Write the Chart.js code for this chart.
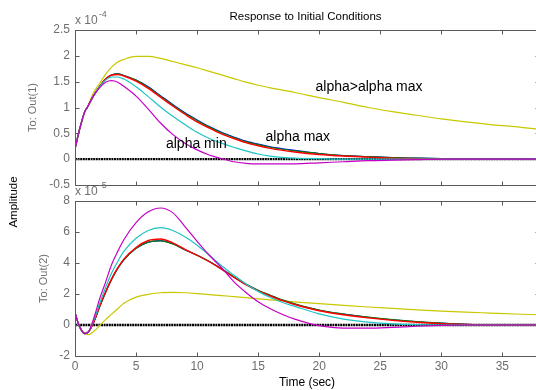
<!DOCTYPE html>
<html><head><meta charset="utf-8">
<script src="https://cdn.jsdelivr.net/npm/chart.js@4"></script>
<style>
html,body{margin:0;padding:0;background:#fff;overflow:hidden;width:536px;height:390px}
canvas{position:absolute;left:0;top:0}
</style></head>
<body>
<canvas id="c1" width="540" height="390"></canvas>
<canvas id="c2" width="540" height="390"></canvas>
<script>
// ---------- DATA ----------
const xTicks = [0, 5, 10, 15, 20, 25, 30, 35];
const xMin = 0, xMax = 38;

// Out(1), values in units of 1e-4
const tA = [0, 0.4, 0.8, 1, 1.5, 2, 2.5, 3, 3.5, 4, 5, 6, 7, 8, 9, 10, 11, 12, 13, 14, 15, 16, 18, 20, 22, 24, 26, 28, 30, 32, 34, 36, 38];
const out1Yellow  = [0.2, 0.6, 0.92, 1.0, 1.28, 1.46, 1.64, 1.78, 1.88, 1.93, 1.99, 1.99, 1.95, 1.89, 1.83, 1.77, 1.7, 1.63, 1.56, 1.49, 1.43, 1.38, 1.29, 1.19, 1.1, 1.0, 0.92, 0.85, 0.78, 0.72, 0.67, 0.63, 0.58];
const out1Blue    = [0.2, 0.6, 0.92, 1.0, 1.22, 1.4, 1.55, 1.63, 1.65, 1.62, 1.53, 1.4, 1.23, 1.06, 0.9, 0.76, 0.63, 0.52, 0.43, 0.35, 0.29, 0.24, 0.17, 0.11, 0.07, 0.05, 0.03, 0.02, 0.01, 0, 0, 0, 0];
const out1Green   = [0.2, 0.6, 0.92, 1.0, 1.22, 1.4, 1.55, 1.63, 1.65, 1.62, 1.53, 1.39, 1.22, 1.05, 0.89, 0.75, 0.62, 0.51, 0.42, 0.34, 0.28, 0.23, 0.16, 0.11, 0.07, 0.05, 0.03, 0.02, 0.01, 0, 0, 0, 0];
const out1Red     = [0.2, 0.6, 0.92, 1.0, 1.22, 1.4, 1.55, 1.63, 1.64, 1.61, 1.51, 1.37, 1.2, 1.03, 0.87, 0.72, 0.6, 0.49, 0.4, 0.32, 0.26, 0.21, 0.14, 0.09, 0.06, 0.04, 0.02, 0.01, 0, 0, 0, 0, 0];
const out1Cyan    = [0.2, 0.6, 0.92, 1.0, 1.22, 1.4, 1.53, 1.59, 1.59, 1.55, 1.4, 1.21, 1.01, 0.83, 0.67, 0.52, 0.4, 0.31, 0.23, 0.16, 0.1, 0.06, 0.02, 0.01, 0, 0, 0, 0, 0, 0, 0, 0, 0];
const out1Magenta = [0.2, 0.6, 0.92, 1.0, 1.22, 1.38, 1.49, 1.52, 1.49, 1.41, 1.22, 0.97, 0.7, 0.48, 0.31, 0.18, 0.08, 0.01, -0.05, -0.08, -0.09, -0.09, -0.09, -0.07, -0.05, -0.03, -0.02, -0.01, 0, 0, 0, 0, 0];

// Out(2), values in units of 1e-5
const tB = [0, 0.25, 0.5, 0.8, 1.1, 1.4, 1.7, 2, 2.5, 3, 3.5, 4, 5, 6, 7, 8, 9, 10, 11, 12, 13, 14, 15, 16, 17, 18, 20, 22, 24, 26, 28, 30, 32, 34, 36, 38];
const out2Yellow  = [0.8, 0.15, -0.3, -0.55, -0.62, -0.5, -0.3, -0.05, 0.35, 0.7, 1.05, 1.4, 1.8, 1.98, 2.08, 2.1, 2.08, 2.03, 1.96, 1.9, 1.83, 1.76, 1.69, 1.62, 1.56, 1.49, 1.38, 1.26, 1.16, 1.07, 0.98, 0.9, 0.83, 0.77, 0.71, 0.66];
const out2Blue    = [0.8, 0.15, -0.3, -0.55, -0.45, -0.05, 0.5, 1.15, 2.1, 2.95, 3.65, 4.2, 4.95, 5.35, 5.45, 5.25, 4.85, 4.5, 4.1, 3.62, 3.1, 2.62, 2.22, 1.9, 1.6, 1.35, 0.95, 0.7, 0.5, 0.34, 0.21, 0.12, 0.05, 0.02, 0, 0];
const out2Green   = [0.8, 0.15, -0.3, -0.55, -0.45, -0.05, 0.5, 1.15, 2.1, 2.95, 3.65, 4.2, 4.95, 5.35, 5.43, 5.23, 4.85, 4.5, 4.1, 3.63, 3.12, 2.64, 2.24, 1.92, 1.62, 1.37, 0.97, 0.71, 0.51, 0.35, 0.22, 0.12, 0.05, 0.02, 0, 0];
const out2Red     = [0.8, 0.15, -0.3, -0.55, -0.45, -0.05, 0.52, 1.18, 2.12, 2.98, 3.68, 4.25, 5.0, 5.45, 5.55, 5.3, 4.88, 4.5, 4.08, 3.6, 3.08, 2.6, 2.2, 1.87, 1.57, 1.32, 0.92, 0.66, 0.46, 0.3, 0.18, 0.09, 0.03, 0, 0, 0];
const out2Cyan    = [0.8, 0.15, -0.3, -0.55, -0.45, 0.05, 0.65, 1.35, 2.4, 3.35, 4.1, 4.75, 5.6, 6.1, 6.28, 6.1, 5.7, 5.15, 4.5, 3.82, 3.22, 2.65, 2.17, 1.77, 1.45, 1.2, 0.72, 0.38, 0.18, 0.07, 0.02, 0, 0, 0, 0, 0];
const out2Magenta = [0.8, 0.15, -0.3, -0.55, -0.45, 0.1, 0.85, 1.65, 2.75, 3.9, 4.75, 5.5, 6.6, 7.3, 7.55, 7.25, 6.35, 5.4, 4.5, 3.7, 2.8, 2.1, 1.5, 1.05, 0.68, 0.38, -0.04, -0.2, -0.2, -0.15, -0.08, -0.03, 0, 0, 0, 0];

// zero reference line
const zeroT = [0, 38];
const zeroV = [0, 0];

// annotations in the upper axes (data coordinates)
const annText = ['alpha>alpha max', 'alpha max', 'alpha min'];
const annX = [19.7, 15.6, 7.45];
const annY = [1.4, 0.42, 0.30];

// ---------- STYLE ----------
const FONT = "'Liberation Sans', Arial, sans-serif";
const GRAY = '#6e6e6e';
const colors = {y:'#c8c800', b:'#0000ff', g:'#008000', r:'#ff0000', c:'#1cc4c4', m:'#c400c4', k:'#000000'};

function pts(t, v){ return t.map((x,i)=>({x:x, y:v[i]})); }
function ds(t, v, color, order, width){
  return {data: pts(t, v), borderColor: color, borderWidth: width || 1.2, pointRadius: 0,
          fill: false, cubicInterpolationMode: 'monotone', order: order};
}
function zeroDs(){
  return {data: pts(zeroT, zeroV), borderColor: '#000', borderWidth: 2.4, borderDash: [2, 0.6],
          pointRadius: 0, fill: false, order: 10};
}

const boxPlugin = {
  id: 'matBox',
  afterDatasetsDraw(chart){
    const {ctx, chartArea: a, scales: {x, y}} = chart;
    ctx.save();
    ctx.strokeStyle = '#5a5a5a'; ctx.lineWidth = 1;
    const L = Math.round(a.left) + 0.5, R = Math.round(a.right) + 0.5;
    const T = Math.round(a.top) + 0.5, B = Math.round(a.bottom) + 0.5;
    ctx.strokeRect(L, T, R - L, B - T);
    ctx.beginPath();
    xTicks.forEach(v => {
      const px = Math.round(x.getPixelForValue(v)) + 0.5;
      ctx.moveTo(px, T); ctx.lineTo(px, T + 4);
      ctx.moveTo(px, B); ctx.lineTo(px, B - 4);
    });
    y.ticks.forEach(tk => {
      const py = Math.round(y.getPixelForValue(tk.value)) + 0.5;
      ctx.moveTo(L, py); ctx.lineTo(L + 4, py);
      ctx.moveTo(R, py); ctx.lineTo(R - 4, py);
    });
    ctx.stroke();
    ctx.restore();
  }
};

function expLabel(ctx, x, y, exp){
  ctx.fillStyle = GRAY;
  ctx.textAlign = 'left'; ctx.textBaseline = 'middle';
  ctx.font = '12px ' + FONT;
  ctx.fillText('x 10', x, y);
  const w = ctx.measureText('x 10').width;
  ctx.font = '9px ' + FONT;
  ctx.fillText(exp, x + w + 1, y - 6);
}

const textPlugin = {
  id: 'texts',
  afterDraw(chart){
    const {ctx, scales: {x, y}} = chart;
    ctx.save();
    ctx.fillStyle = '#000';
    ctx.font = '11.5px ' + FONT;
    ctx.textAlign = 'center'; ctx.textBaseline = 'middle';
    ctx.fillText('Response to Initial Conditions', 305.5, 17);
    ctx.save();
    ctx.translate(14, 202); ctx.rotate(-Math.PI / 2);
    ctx.fillText('Amplitude', 0, 0);
    ctx.restore();
    expLabel(ctx, 75, 21, '-4');
    expLabel(ctx, 75, 192, '-5');
    ctx.fillStyle = '#000';
    ctx.font = '14px ' + FONT;
    ctx.textAlign = 'left'; ctx.textBaseline = 'middle';
    annText.forEach((s, i) => ctx.fillText(s, x.getPixelForValue(annX[i]), y.getPixelForValue(annY[i])));
    ctx.restore();
  }
};

Chart.defaults.font.family = FONT;
Chart.defaults.animation = false;

const common = {
  responsive: false,
  animation: false,
  plugins: {legend: {display: false}, tooltip: {enabled: false}, title: {display: false}},
  elements: {line: {tension: 0}}
};
const fmt = v => String(Math.round(v * 100) / 100);

// ---------- TOP AXES ----------
new Chart(document.getElementById('c1'), {
  type: 'line',
  data: {datasets: [
    zeroDs(),
    ds(tA, out1Yellow, colors.y, 6),
    ds(tA, out1Blue, colors.b, 5),
    ds(tA, out1Green, colors.g, 4),
    ds(tA, out1Red, colors.r, 3, 1.4),
    ds(tA, out1Cyan, colors.c, 2),
    ds(tA, out1Magenta, colors.m, 1)
  ]},
  options: Object.assign({}, common, {
    layout: {padding: {left: 0, top: 30, right: 1, bottom: 205}},
    scales: {
      x: {type: 'linear', min: xMin, max: xMax, display: false},
      y: {type: 'linear', min: -0.5, max: 2.5,
          ticks: {stepSize: 0.5, color: GRAY, font: {size: 12}, padding: 5, callback: fmt},
          grid: {display: false, drawTicks: false}, border: {display: false},
          title: {display: true, text: 'To: Out(1)', color: GRAY, font: {size: 11}, padding: {top: 26.4, bottom: 0}},
          afterFit: s => { s.width = 75; }}
    }
  }),
  plugins: [boxPlugin, textPlugin]
});

// ---------- BOTTOM AXES ----------
new Chart(document.getElementById('c2'), {
  type: 'line',
  data: {datasets: [
    zeroDs(),
    ds(tB, out2Yellow, colors.y, 6),
    ds(tB, out2Blue, colors.b, 5),
    ds(tB, out2Green, colors.g, 4),
    ds(tB, out2Red, colors.r, 3, 1.4),
    ds(tB, out2Cyan, colors.c, 2),
    ds(tB, out2Magenta, colors.m, 1)
  ]},
  options: Object.assign({}, common, {
    layout: {padding: {left: 0, top: 201, right: 1, bottom: 0}},
    scales: {
      x: {type: 'linear', min: xMin, max: xMax,
          afterBuildTicks: s => { s.ticks = xTicks.map(v => ({value: v})); },
          ticks: {color: GRAY, font: {size: 12}, padding: 3, maxRotation: 0, callback: fmt},
          grid: {display: false, drawTicks: false}, border: {display: false},
          title: {display: true, text: 'Time (sec)', color: '#000', font: {size: 12}, padding: {top: 0, bottom: 0}},
          afterFit: s => { s.height = 34; }},
      y: {type: 'linear', min: -2, max: 8,
          ticks: {stepSize: 2, color: GRAY, font: {size: 12}, padding: 5, callback: fmt},
          grid: {display: false, drawTicks: false}, border: {display: false},
          title: {display: true, text: 'To: Out(2)', color: GRAY, font: {size: 11}, padding: {top: 37.4, bottom: 0}},
          afterFit: s => { s.width = 75; }}
    }
  }),
  plugins: [boxPlugin]
});
</script>
</body></html>
